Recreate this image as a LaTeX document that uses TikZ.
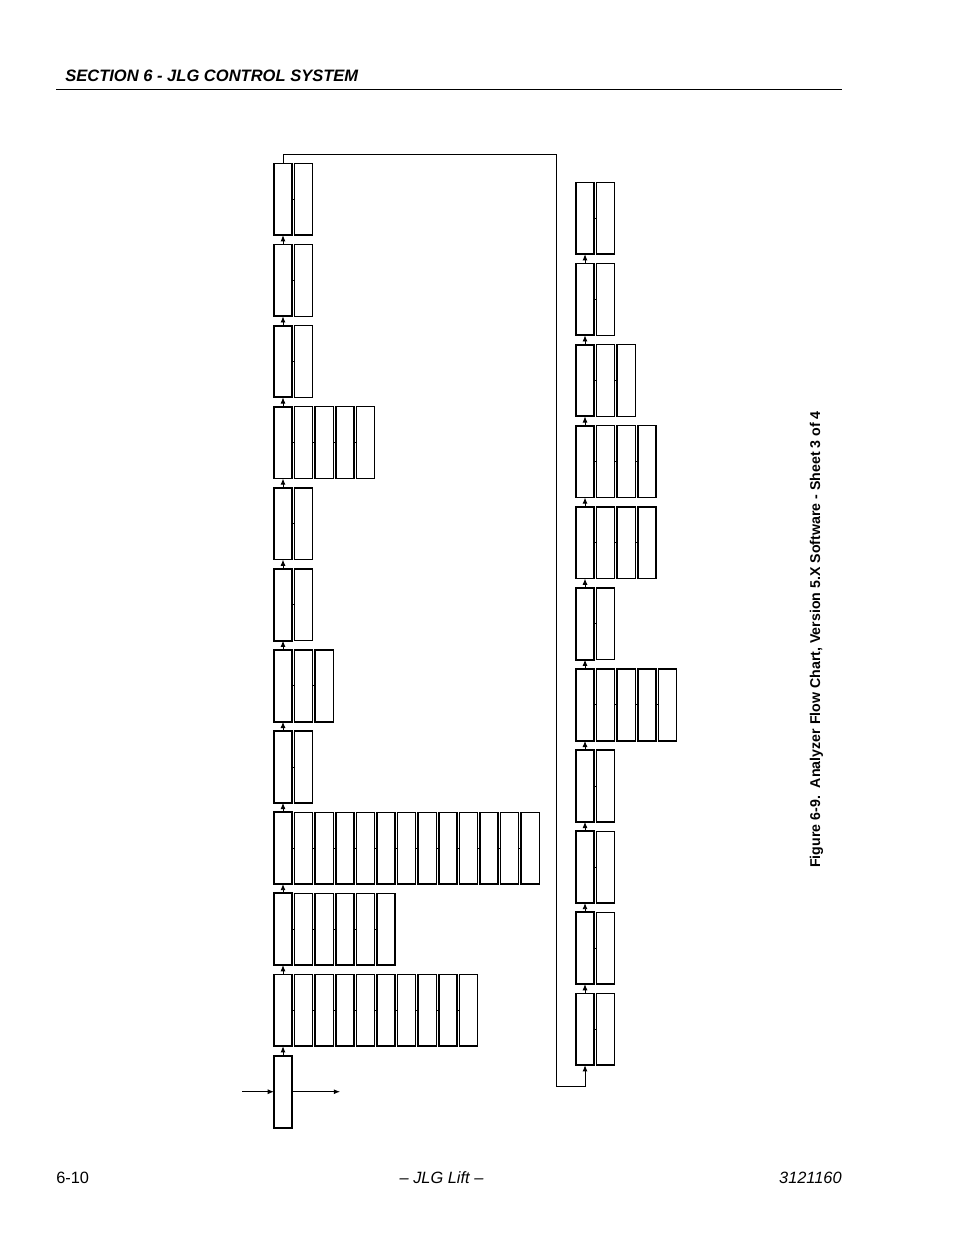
\documentclass[tikz,border=0pt]{standalone}
\usepackage{fontspec}
\setmainfont{Liberation Sans}
\usetikzlibrary{arrows.meta}

\begin{document}
\begin{tikzpicture}[x=0.6414pt,y=0.6414pt,yscale=-1,xscale=1,
    menubox/.style={draw, line width=1.2pt, minimum width=11.6pt, minimum height=46pt, inner sep=0pt, outer sep=0pt},
    subbox/.style={menubox, line width=0.95pt},
    link/.style={line width=0.6pt},
    flow/.style={line width=0.6pt, -{Latex[length=4pt,width=3.2pt]}}]
        %set diagram size to the page: 954 x 1235
        \useasboundingbox (0,0) rectangle (954,1235);

        % Text Node
        \node [anchor=base west, inner sep=0pt, font=\fontsize{10.6}{12}\selectfont\bfseries\itshape] (sectitle) at (65,81.5) {SECTION 6 - JLG CONTROL SYSTEM};
        %Straight Lines
        \draw [line width=0.8pt] (56,89.3) -- (842,89.3);

        %Left column of menus
        \foreach \n [count=\r] in {2,2,2,5,2,2,3,2,13,6,10} {
            \pgfmathsetmacro\yc{199.3+(\r-1)*81.1}
            \node [menubox] (l\r-1) at (283,\yc) {};
            \foreach \c [remember=\c as \p (initially 1)] in {2,...,\n} {
                \node [subbox] (l\r-\c) at ({283+(\c-1)*20.6},\yc) {};
                \draw [link] (l\r-\p.east) -- (l\r-\c.west);
            }
        }
        %entry box
        \node [menubox] (l12-1) at (283,1091.7) {};
        \coordinate (feed) at (242,1091.7);
        \coordinate (exit) at (340,1091.7);
        \draw [flow] (feed) -- (l12-1.west);
        \draw [flow] (l12-1.east) -- (exit);
        \foreach \r [evaluate=\r as \s using int(\r+1)] in {1,...,11} {
            \draw [flow] (l\s-1.north) -- (l\r-1.south);
        }

        %Right column of menus
        \foreach \n [count=\r] in {2,2,3,4,4,2,5,2,2,2,2} {
            \pgfmathsetmacro\yc{218.3+(\r-1)*81.1}
            \node [menubox] (r\r-1) at (585,\yc) {};
            \foreach \c [remember=\c as \p (initially 1)] in {2,...,\n} {
                \node [subbox] (r\r-\c) at ({585+(\c-1)*20.6},\yc) {};
                \draw [link] (r\r-\p.east) -- (r\r-\c.west);
            }
        }
        \foreach \r [evaluate=\r as \s using int(\r+1)] in {1,...,10} {
            \draw [flow] (r\s-1.north) -- (r\r-1.south);
        }

        %Curve Lines: top of left column over to foot of right column
        \coordinate (turnA) at (556.5,154.3);
        \coordinate (turnB) at (556.5,1086);
        \draw [flow] (l1-1.north) |- (turnA) -- (turnB) -| (r11-1.south);

        % Text Node
        \node [rotate=90, anchor=base west, inner sep=0pt, font=\fontsize{9.1}{11}\selectfont\bfseries] (caption) at (820,868) {Figure 6-9.\ \ Analyzer Flow Chart, Version 5.X Software - Sheet 3 of 4};
        % Text Node
        \node [anchor=base west, inner sep=0pt, font=\fontsize{10.5}{12}\selectfont] (pageno) at (56,1183) {6-10};
        % Text Node
        \node [anchor=base, inner sep=0pt, font=\fontsize{10.5}{12}\selectfont\itshape] (brand) at (441.5,1183) {\textendash{} JLG Lift \textendash};
        % Text Node
        \node [anchor=base east, inner sep=0pt, font=\fontsize{10.5}{12}\selectfont\itshape] (docno) at (842,1183) {3121160};
\end{tikzpicture}
\end{document}
